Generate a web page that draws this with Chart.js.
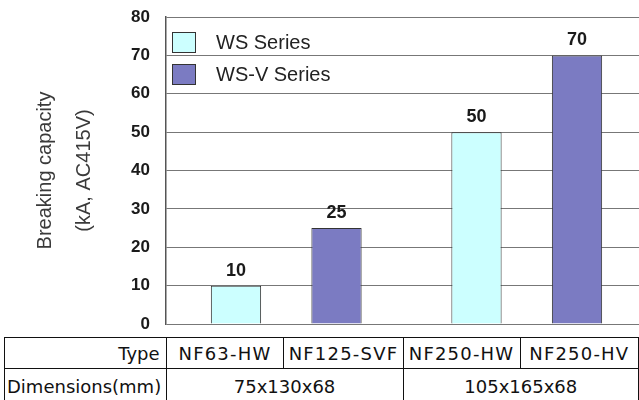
<!DOCTYPE html>
<html>
<head>
<meta charset="utf-8">
<script src="https://cdn.jsdelivr.net/npm/chart.js@4.4.1/dist/chart.umd.min.js"></script>
<style>
    html, body { margin: 0; padding: 0; width: 639px; height: 400px; overflow: hidden; background: #fff; }
    #wrap { position: relative; width: 639px; height: 400px; overflow: hidden; }
    #chartBox { position: absolute; left: 0; top: 0; width: 647px; height: 335px; }
    #legend { position: absolute; left: 172px; top: 27px; font-family: "Liberation Sans", Arial, sans-serif; font-size: 20px; color: #222; }
    #legend .row { height: 31.5px; display: flex; align-items: center; }
    #legend .swatch { box-sizing: border-box; width: 24px; height: 21px; border: 1.5px solid #333; margin-right: 20px; }
    #specs { position: absolute; left: 4px; top: 337px; border-collapse: collapse; table-layout: fixed; font-family: "DejaVu Sans", sans-serif; font-size: 18px; color: #111; background: #fff; }
    #specs td { border: 1.5px solid #111; height: 30px; padding: 0; text-align: center; white-space: nowrap; overflow: hidden; }
    #specs tr.dims td { height: 34px; padding-bottom: 3px; }
    #specs td.type { letter-spacing: 1.2px; }
</style>
</head>
<body>
<div id="wrap">
    <div id="chartBox"><canvas id="chart"></canvas></div>
    <div id="legend"></div>
    <table id="specs"></table>
</div>
<script>
(function() {
    'use strict';

    // Chart data
    var dimensionGroups = ['75x130x68', '105x165x68'];
    var typeNames = ['NF63-HW', 'NF125-SVF', 'NF250-HW', 'NF250-HV'];
    var seriesNames = ['WS Series', 'WS-V Series'];
    var wsValues = [10, 50];
    var wsvValues = [25, 70];
    var yTitle = ['Breaking capacity', '(kA, AC415V)'];
    var yMin = 0;
    var yMax = 80;
    var yStep = 10;

    var colors = ['#ccffff', '#7b7bc2'];

    // Draw the value above each bar
    var barValueLabels = {
        id: 'barValueLabels',
        afterDatasetsDraw: function(chart) {
            var ctx = chart.ctx;
            ctx.save();
            ctx.font = 'bold 18px "Liberation Sans", Arial, sans-serif';
            ctx.fillStyle = '#1a1a1a';
            ctx.textAlign = 'center';
            ctx.textBaseline = 'alphabetic';
            chart.data.datasets.forEach(function(ds, i) {
                chart.getDatasetMeta(i).data.forEach(function(bar, j) {
                    ctx.fillText(String(ds.data[j]), bar.x, bar.y - 10);
                });
            });
            ctx.restore();
        }
    };

    var chart = new Chart(document.getElementById('chart'), {
        type: 'bar',
        data: {
            labels: dimensionGroups,
            datasets: [{
                label: seriesNames[0],
                data: wsValues,
                backgroundColor: colors[0],
                borderColor: '#333',
                borderWidth: 1
            }, {
                label: seriesNames[1],
                data: wsvValues,
                backgroundColor: colors[1],
                borderColor: '#333',
                borderWidth: 1
            }]
        },
        options: {
            responsive: true,
            maintainAspectRatio: false,
            animation: false,
            categoryPercentage: 0.836,
            barPercentage: 0.5,
            layout: { padding: { top: 17, bottom: 11, left: 0, right: 0 } },
            plugins: {
                legend: { display: false },
                tooltip: { enabled: false }
            },
            scales: {
                x: { display: false },
                y: {
                    min: yMin,
                    max: yMax,
                    ticks: {
                        stepSize: yStep,
                        padding: 16,
                        color: '#1a1a1a',
                        font: { family: '"Liberation Sans", Arial, sans-serif', size: 17, weight: 'bold' }
                    },
                    grid: { color: '#777', lineWidth: 1, drawTicks: false },
                    border: { display: true, color: '#555', width: 1.5 },
                    title: {
                        display: true,
                        text: yTitle,
                        color: '#3a3a3a',
                        padding: { top: 25.5, bottom: 0 },
                        font: { family: '"Liberation Sans", Arial, sans-serif', size: 20, lineHeight: 1.95 }
                    },
                    afterFit: function(scale) {
                        scale.width = 166;
                        scale.paddingTop = 0;
                        scale.paddingBottom = 0;
                    }
                }
            }
        },
        plugins: [barValueLabels]
    });

    // Legend inside the plot
    var legend = document.getElementById('legend');
    chart.data.datasets.forEach(function(ds) {
        var row = document.createElement('div');
        row.className = 'row';
        var sw = document.createElement('div');
        sw.className = 'swatch';
        sw.style.background = ds.backgroundColor;
        var txt = document.createElement('span');
        txt.textContent = ds.label;
        row.appendChild(sw);
        row.appendChild(txt);
        legend.appendChild(row);
    });

    // Spec table under the chart
    var table = document.getElementById('specs');
    var colWidths = [162, 120, 120, 118, 120];
    var cg = document.createElement('colgroup');
    colWidths.forEach(function(w) {
        var c = document.createElement('col');
        c.style.width = w + 'px';
        cg.appendChild(c);
    });
    table.appendChild(cg);

    var r1 = table.insertRow();
    var h1 = r1.insertCell();
    h1.textContent = 'Type';
    h1.style.textAlign = 'right';
    h1.style.paddingRight = '6px';
    typeNames.forEach(function(t) {
        var c = r1.insertCell();
        c.className = 'type';
        c.textContent = t;
    });

    var r2 = table.insertRow();
    r2.className = 'dims';
    var h2 = r2.insertCell();
    h2.textContent = 'Dimensions(mm)';
    h2.style.textAlign = 'left';
    h2.style.paddingLeft = '2px';
    dimensionGroups.forEach(function(d) {
        var c = r2.insertCell();
        c.colSpan = typeNames.length / dimensionGroups.length;
        c.textContent = d;
    });
})();
</script>
</body>
</html>
